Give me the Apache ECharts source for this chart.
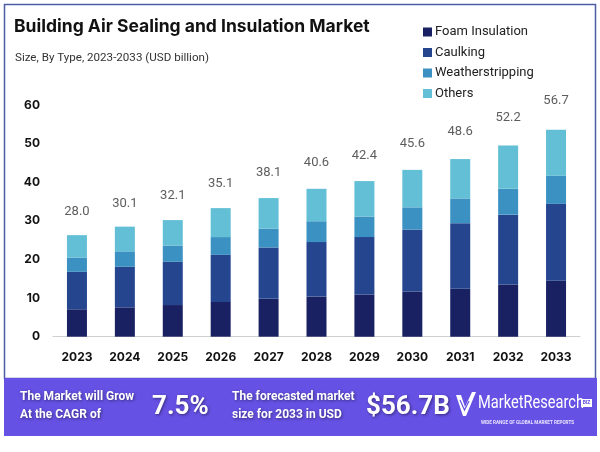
<!DOCTYPE html>
<html>
<head>
<meta charset="utf-8">
<script src="https://cdn.jsdelivr.net/npm/echarts@6/dist/echarts.min.js"></script>
<style>html,body{margin:0;padding:0;background:#fff}#c{width:600px;height:452px}</style>
</head>
<body>
<div id="c"></div>
<script>
const years = ['2023','2024','2025','2026','2027','2028','2029','2030','2031','2032','2033'];
const foamInsulation   = [7.1, 7.6, 8.2, 9.0, 9.8, 10.4, 10.9, 11.7, 12.4, 13.5, 14.5];
const caulking         = [9.7, 10.5, 11.2, 12.2, 13.3, 14.1, 14.9, 16.0, 17.0, 18.1, 19.9];
const weatherstripping = [3.7, 4.0, 4.2, 4.6, 4.9, 5.4, 5.3, 5.8, 6.4, 6.7, 7.3];
const others           = [5.8, 6.4, 6.6, 7.5, 7.9, 8.4, 9.2, 9.7, 10.2, 11.2, 11.9];
const totals           = [28.0, 30.1, 32.1, 35.1, 38.1, 40.6, 42.4, 45.6, 48.6, 52.2, 56.7];
const yTicks = [0, 10, 20, 30, 40, 50, 60];

const colors = ['#1a2163', '#25468f', '#3b91c1', '#63bfd5'];
const names = ['Foam Insulation', 'Caulking', 'Weatherstripping', 'Others'];
const seriesData = [foamInsulation, caulking, weatherstripping, others];

const chart = echarts.init(document.getElementById('c'), null, {renderer: 'canvas'});
const shadowTxt = {textShadowColor: 'rgba(0,0,0,0.45)', textShadowBlur: 3, textShadowOffsetX: 1, textShadowOffsetY: 1};

const option = {
  animation: false,
  title: [
    {text: 'Building Air Sealing and Insulation Market', left: 14, top: 18, padding: 0,
     textStyle: {fontFamily: 'Inter', fontWeight: 'bold', fontSize: 17.5, color: '#111'}},
    {text: 'Size, By Type, 2023-2033 (USD billion)', left: 15, top: 52, padding: 0,
     textStyle: {fontFamily: 'Roboto', fontWeight: 'normal', fontSize: 11.6, color: '#333'}}
  ],
  legend: {
    orient: 'vertical', left: 418, top: 20.5, itemWidth: 9, itemHeight: 9, itemGap: 7.5,
    icon: 'rect', data: names,
    textStyle: {fontFamily: 'Roboto', fontSize: 13, color: '#222', padding: [0,0,0,-2]}
  },
  grid: {left: 53, right: 20, top: 105, bottom: 115.3},
  xAxis: {
    type: 'category', data: years,
    axisLine: {lineStyle: {color: '#cfcfcf', width: 1}},
    axisTick: {show: false},
    axisLabel: {fontFamily: 'Inter', fontWeight: 'bold', fontSize: 12, color: '#111', margin: 15}
  },
  yAxis: {
    type: 'value', min: 0, max: 60, interval: 10,
    axisLine: {show: false}, axisTick: {show: false}, splitLine: {show: false},
    axisLabel: {fontFamily: 'Inter', fontWeight: 'bold', fontSize: 12, color: '#111', margin: 13,
      formatter: v => yTicks.includes(v) ? String(v) : ''}
  },
  series: names.map((n, i) => ({
    name: n, type: 'bar', stack: 'total', barWidth: 20,
    itemStyle: {color: colors[i]}, data: seriesData[i]
  })).concat([{
    name: 'Total', type: 'scatter', data: totals, symbol: 'circle', symbolSize: 1,
    itemStyle: {color: 'rgba(0,0,0,0)'}, silent: true, z: 5,
    label: {show: true, position: 'top', distance: 10, fontFamily: 'Roboto', fontSize: 13, color: '#333',
      formatter: p => p.value.toFixed(1)}
  }]),
  graphic: [
    {type: 'rect', shape: {x: 4.5, y: 4.5, width: 591, height: 374}, style: {fill: 'none', stroke: '#4a5ea8', lineWidth: 1.5}, z: -1},
    {type: 'rect', shape: {x: 4, y: 378, width: 593, height: 58}, style: {fill: '#6551e3'}, z: 10},
    {type: 'text', x: 20, y: 397, z: 11, style: Object.assign({text: 'The Market will Grow', fill: '#fff', font: 'bold 12px Roboto', verticalAlign: 'middle'}, shadowTxt)},
    {type: 'text', x: 20, y: 415, z: 11, style: Object.assign({text: 'At the CAGR of', fill: '#fff', font: 'bold 12px Roboto', verticalAlign: 'middle'}, shadowTxt)},
    {type: 'text', x: 152, y: 407, z: 11, style: Object.assign({text: '7.5%', fill: '#fff', font: 'bold 26px Roboto', verticalAlign: 'middle'}, shadowTxt)},
    {type: 'text', x: 232, y: 397, z: 11, style: Object.assign({text: 'The forecasted market', fill: '#fff', font: 'bold 12px Roboto', verticalAlign: 'middle'}, shadowTxt)},
    {type: 'text', x: 232, y: 415, z: 11, style: Object.assign({text: 'size for 2033 in USD', fill: '#fff', font: 'bold 12px Roboto', verticalAlign: 'middle'}, shadowTxt)},
    {type: 'text', x: 366, y: 407, z: 11, style: Object.assign({text: '$56.7B', fill: '#fff', font: 'bold 26px Roboto', verticalAlign: 'middle'}, shadowTxt)},
    {type: 'polygon', z: 11, shape: {points: [[456,395],[461,395],[465,407],[472,392],[476,392],[466,416],[463,416]]}, style: {fill: '#fff'}},
    {type: 'polyline', z: 12, shape: {points: [[460,400],[464.5,410],[469,401]]}, style: {stroke: '#6551e3', lineWidth: 1.2, fill: 'none'}},
    {type: 'text', x: 478, y: 403, scaleX: 0.77, z: 11, style: {text: 'MarketResearch', fill: '#fff', font: '19px Roboto', verticalAlign: 'middle'}},
    {type: 'rect', z: 11, shape: {x: 581, y: 399, width: 11, height: 8}, style: {fill: '#fff'}},
    {type: 'text', x: 586.5, y: 403, z: 12, style: {text: 'BIZ', fill: '#6551e3', font: 'bold 5px Roboto', align: 'center', verticalAlign: 'middle'}},
    {type: 'text', x: 481, y: 423, z: 11, style: {text: 'WIDE RANGE OF GLOBAL MARKET REPORTS', fill: '#e8e4ff', font: 'bold 4.6px Roboto', verticalAlign: 'middle'}}
  ]
};
chart.setOption(option);
</script>
</body>
</html>
